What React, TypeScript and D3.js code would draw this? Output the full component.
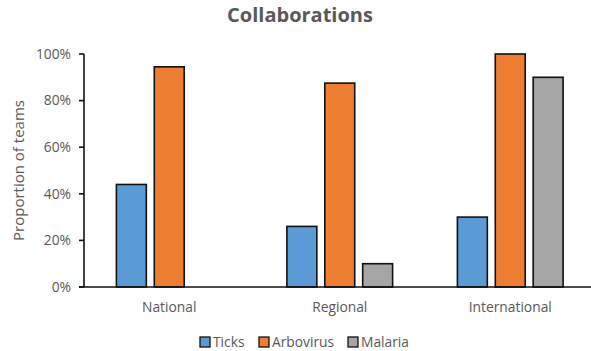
import React from "react";
import * as d3 from "d3";

const categories = ["National", "Regional", "International"];
const seriesNames = ["Ticks", "Arbovirus", "Malaria"];
const ticksValues = [0.44, 0.26, 0.3];
const arbovirusValues = [0.945, 0.875, 1.0];
const malariaValues = [0, 0.1, 0.9];
const yTicks = [0, 0.2, 0.4, 0.6, 0.8, 1.0];
const colors = ["#5b9bd5", "#ed7d31", "#a5a5a5"];

const W = 591;
const H = 351;
const font = "'Open Sans', Lato, sans-serif";
const textColor = "#595959";
const labelSize = 13.8;

export default function App() {
  const series = [ticksValues, arbovirusValues, malariaValues];
  const left = 84;
  const right = 595.5;
  const top = 54;
  const bottom = 287;

  const x0 = d3.scaleBand<string>().domain(categories).range([left, right]);
  const bw = x0.bandwidth();
  const x1 = d3
    .scaleBand<string>()
    .domain(seriesNames)
    .range([bw * 0.19, bw * 0.81])
    .paddingInner(0.21);
  const y = d3.scaleLinear().domain([0, 1]).range([bottom, top]);
  const fmt = d3.format(".0%");

  const legendItems = [
    { name: "Ticks", x: 200 },
    { name: "Arbovirus", x: 259 },
    { name: "Malaria", x: 348 },
  ];

  return (
    <svg
      width={W}
      height={H}
      style={{ position: "absolute", left: 0, top: 0, background: "#fff" }}
      fontFamily={font}
    >
      <rect width={W} height={H} fill="#fff" />
      <text
        x={300}
        y={22}
        textAnchor="middle"
        fontSize={20}
        fontWeight="bold"
        fill={textColor}
      >
        Collaborations
      </text>

      {/* bars */}
      {categories.map((c, ci) =>
        seriesNames.map((s, si) => {
          const v = series[si][ci];
          if (v <= 0) return null;
          const bx = (x0(c) ?? 0) + (x1(s) ?? 0);
          return (
            <rect
              key={c + s}
              x={bx}
              y={y(v)}
              width={x1.bandwidth()}
              height={y(0) - y(v)}
              fill={colors[si]}
              stroke="#111"
              strokeWidth={1.6}
            />
          );
        })
      )}

      {/* y axis */}
      <line x1={left} x2={left} y1={top} y2={bottom} stroke="#111" strokeWidth={1.6} />
      {yTicks.map((t) => (
        <g key={t}>
          <line x1={left - 5} x2={left} y1={y(t)} y2={y(t)} stroke="#111" strokeWidth={1.6} />
          <text
            x={left - 13}
            y={y(t)}
            dy="0.35em"
            textAnchor="end"
            fontSize={labelSize}
            fill={textColor}
          >
            {fmt(t)}
          </text>
        </g>
      ))}
      <line x1={left - 5} x2={right} y1={bottom} y2={bottom} stroke="#111" strokeWidth={1.6} />

      {/* category labels */}
      {categories.map((c) => (
        <text
          key={c}
          x={(x0(c) ?? 0) + bw / 2}
          y={307}
          dy="0.35em"
          textAnchor="middle"
          fontSize={labelSize}
          fill={textColor}
        >
          {c}
        </text>
      ))}

      <text
        transform={`translate(19,${(top + bottom) / 2}) rotate(-90)`}
        textAnchor="middle"
        dy="0.35em"
        fontSize={15}
        fill={textColor}
      >
        Proportion of teams
      </text>

      {/* legend */}
      {legendItems.map((li, i) => (
        <g key={li.name}>
          <rect x={li.x} y={337} width={10} height={10} fill={colors[i]} stroke="#111" strokeWidth={1.3} />
          <text x={li.x + 13} y={342.5} dy="0.35em" fontSize={labelSize} fill={textColor}>
            {li.name}
          </text>
        </g>
      ))}
    </svg>
  );
}
